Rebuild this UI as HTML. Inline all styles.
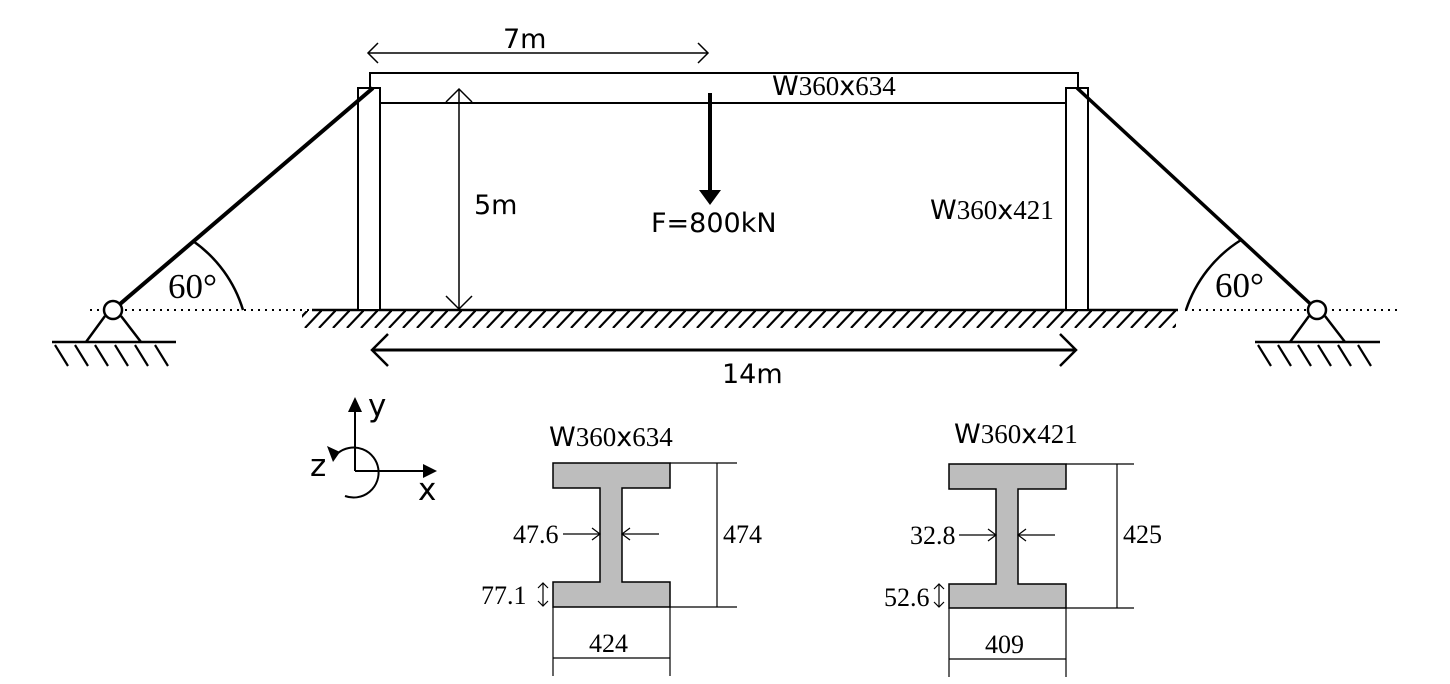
<!DOCTYPE html>
<html><head><meta charset="utf-8"><style>
html,body{margin:0;padding:0;background:#fff;}
svg{display:block;}
.s{font-family:"DejaVu Sans","Liberation Sans",sans-serif;}
.r{font-family:"Liberation Serif",serif;}
</style></head><body>
<svg width="1450" height="684" viewBox="0 0 1450 684" xmlns="http://www.w3.org/2000/svg">
<defs>
<pattern id="h" x="0" y="310" width="14" height="18" patternUnits="userSpaceOnUse">
<line x1="14" y1="0" x2="-3" y2="18" stroke="#000" stroke-width="2.2"/>
<line x1="28" y1="0" x2="11" y2="18" stroke="#000" stroke-width="2.2"/>
</pattern>
</defs>
<g fill="none" stroke="#000">
<line x1="90" y1="310" x2="315" y2="310" stroke-width="2" stroke-dasharray="2,5"/>
<line x1="1185" y1="310" x2="1402" y2="310" stroke-width="2" stroke-dasharray="2,5"/>
<line x1="312" y1="310" x2="1178" y2="310" stroke-width="2.5"/>
<rect x="302" y="311" width="874" height="17" fill="url(#h)" stroke="none"/>
<rect x="370" y="73" width="708" height="30" stroke-width="2"/>
<rect x="358" y="88" width="22" height="222" fill="#fff" stroke-width="2"/>
<rect x="1066" y="88" width="22" height="222" fill="#fff" stroke-width="2"/>
<line x1="113" y1="310" x2="373" y2="88" stroke-width="4"/>
<line x1="1077" y1="88" x2="1317" y2="310" stroke-width="3.5"/>
<path d="M 193 241 A 130 130 0 0 1 243 310" stroke-width="2.5"/>
<path d="M 1241 240 A 131 131 0 0 0 1186 310" stroke-width="2.5"/>
<path d="M 105 316 L 86 342 M 121 316 L 141 342" stroke-width="2.5"/>
<line x1="52" y1="342" x2="176" y2="342" stroke-width="2.5"/>
<path d="M 1309 316 L 1290 342 M 1325 316 L 1345 342" stroke-width="2.5"/>
<line x1="1255" y1="342" x2="1380" y2="342" stroke-width="2.5"/>
<g stroke-width="2.2">
<path d="M55 345 L68 366 M75 345 L88 366 M95 345 L108 366 M115 345 L128 366 M135 345 L148 366 M155 345 L168 366"/>
<path d="M1258 345 L1271 366 M1278 345 L1291 366 M1298 345 L1311 366 M1318 345 L1331 366 M1338 345 L1351 366 M1358 345 L1371 366"/>
</g>
<circle cx="113" cy="310" r="9" fill="#fff" stroke-width="2.5"/>
<circle cx="1317" cy="310" r="9" fill="#fff" stroke-width="2.5"/>
<line x1="368" y1="53" x2="708" y2="53" stroke-width="1.5"/>
<path d="M378 43 L368 53 L378 63 M698 43 L708 53 L698 63" stroke-width="1.5"/>
<line x1="459" y1="89" x2="459" y2="309" stroke-width="1.5"/>
<path d="M446 102 L459 89 L472 102 M446 296 L459 309 L472 296" stroke-width="1.5"/>
<line x1="372" y1="350" x2="1076" y2="350" stroke-width="3"/>
<path d="M388 334 L372 350 L388 366 M1060 334 L1076 350 L1060 366" stroke-width="2.5"/>
<line x1="710" y1="93" x2="710" y2="192" stroke-width="4"/>
</g>
<polygon points="699,190 721,190 710,205" fill="#000"/>
<g class="s" font-size="27" fill="#000">
<text x="503" y="48">7m</text>
<text x="474" y="214">5m</text>
<text x="651" y="232">F=800kN</text>
<text x="772" y="95">W<tspan class="r">360</tspan>x<tspan class="r">634</tspan></text>
<text x="930" y="219">W<tspan class="r">360</tspan>x<tspan class="r">421</tspan></text>
<text x="722" y="383">14m</text>
<text x="549" y="446">W<tspan class="r">360</tspan>x<tspan class="r">634</tspan></text>
<text x="954" y="443">W<tspan class="r">360</tspan>x<tspan class="r">421</tspan></text>
<text x="368" y="416" font-size="31">y</text>
<text x="418" y="500" font-size="31">x</text>
<text x="310" y="476" font-size="31">z</text>
</g>
<g class="r" font-size="35" fill="#000">
<text x="168" y="298">60°</text>
<text x="1215" y="297">60°</text>
</g>
<g fill="none" stroke="#000" stroke-width="2">
<line x1="355" y1="471" x2="355" y2="410"/>
<line x1="355" y1="471" x2="425" y2="471"/>
<path d="M 345 496 A 25 25 0 1 0 338 453"/>
</g>
<polygon points="348,412 362,412 355,397" fill="#000"/>
<polygon points="423,464 423,478 437,471" fill="#000"/>
<polygon points="327,446 340,452 333,462" fill="#000"/>
<path d="M553 463 H670 V488 H622 V582 H670 V607 H553 V582 H600 V488 H553 Z" fill="#bdbdbd" stroke="#000" stroke-width="1.5"/>
<path d="M949 464 H1066 V489 H1018 V584 H1066 V608 H949 V584 H996 V489 H949 Z" fill="#bdbdbd" stroke="#000" stroke-width="1.5"/>
<g fill="none" stroke="#000" stroke-width="1.2">
<line x1="670" y1="463" x2="737" y2="463"/><line x1="670" y1="607" x2="737" y2="607"/>
<line x1="717" y1="463" x2="717" y2="607"/>
<line x1="553" y1="607" x2="553" y2="676"/><line x1="670" y1="607" x2="670" y2="676"/>
<line x1="553" y1="658" x2="670" y2="658"/>
<line x1="563" y1="534" x2="600" y2="534"/><path d="M592 528 L600 534 L592 540"/>
<line x1="622" y1="534" x2="659" y2="534"/><path d="M630 528 L622 534 L630 540"/>
<line x1="543" y1="583" x2="543" y2="606"/><path d="M538 588 L543 583 L548 588 M538 601 L543 606 L548 601"/>
<line x1="1066" y1="464" x2="1134" y2="464"/><line x1="1066" y1="608" x2="1134" y2="608"/>
<line x1="1117" y1="464" x2="1117" y2="608"/>
<line x1="949" y1="608" x2="949" y2="677"/><line x1="1066" y1="608" x2="1066" y2="677"/>
<line x1="949" y1="659" x2="1066" y2="659"/>
<line x1="959" y1="535" x2="996" y2="535"/><path d="M988 529 L996 535 L988 541"/>
<line x1="1018" y1="535" x2="1055" y2="535"/><path d="M1026 529 L1018 535 L1026 541"/>
<line x1="939" y1="584" x2="939" y2="607"/><path d="M934 589 L939 584 L944 589 M934 602 L939 607 L944 602"/>
</g>
<g class="r" font-size="26" fill="#000">
<text x="723" y="543">474</text>
<text x="513" y="543">47.6</text>
<text x="481" y="604">77.1</text>
<text x="589" y="652">424</text>
<text x="1123" y="543">425</text>
<text x="910" y="544">32.8</text>
<text x="884" y="606">52.6</text>
<text x="985" y="653">409</text>
</g>
</svg>
</body></html>
